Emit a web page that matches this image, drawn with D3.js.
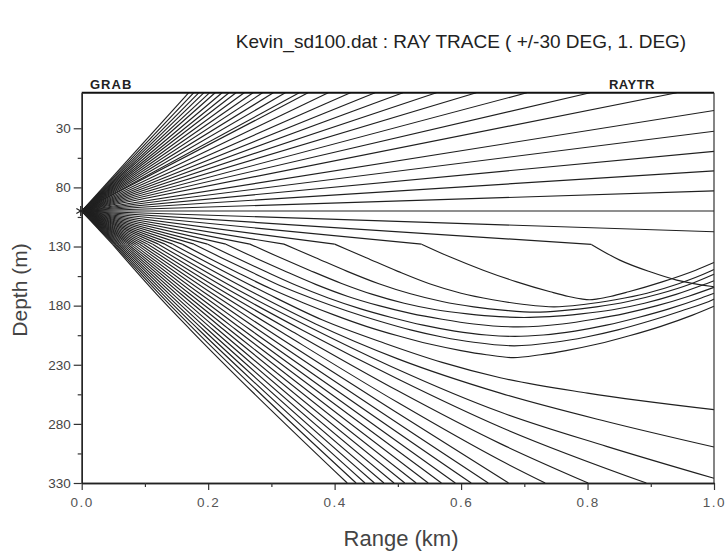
<!DOCTYPE html>
<html>
<head>
<meta charset="utf-8">
<script src="https://cdn.jsdelivr.net/npm/d3@7"></script>
<style>
  body { margin: 0; background: #fff; }
  text { font-family: "Liberation Sans", Arial, sans-serif; }
</style>
</head>
<body>
<div id="chart"></div>
<script>
// source position (range km, depth m)
const source = [0, 100];

// rays launched upward, +1 .. +30 deg : end point (range km, depth m)
const upRayEnds = [
  [1.0, 83], [1.0, 66], [1.0, 49.5], [1.0, 32.5], [1.0, 15],
  [0.941, 0], [0.804, 0], [0.704, 0], [0.624, 0], [0.561, 0],
  [0.508, 0], [0.464, 0], [0.425, 0], [0.390, 0], [0.358, 0],
  [0.344, 0], [0.322, 0], [0.303, 0], [0.286, 0], [0.271, 0],
  [0.257, 0], [0.244, 0], [0.233, 0], [0.222, 0], [0.211, 0],
  [0.202, 0], [0.193, 0], [0.185, 0], [0.177, 0], [0.169, 0]
];

// horizontal ray
const flatRay = [[0, 100], [1.0, 100]];

// rays launched downward, -1 .. -30 deg (first point after the source is the 128 m kink)
const downRays = [
  [[0, 100], [1.0, 117.5]],
  [[0, 100], [0.806, 128.2], [0.851, 141.5], [0.899, 151.4], [0.941, 158.4], [1.0, 164]],
  [[0, 100], [0.5375, 128], [0.582, 138.7], [0.635, 150], [0.688, 159.9], [0.741, 168.3], [0.77, 172.3], [0.79, 174.3], [0.803, 175], [0.816, 174.3], [0.836, 172.3], [0.865, 168.3], [0.918, 159.9], [0.971, 150], [1.0, 143.5]],
  [[0, 100], [0.40, 128], [0.45, 139.5], [0.50, 151], [0.55, 161.5], [0.60, 169.5], [0.65, 175], [0.70, 179], [0.747, 181], [0.794, 179], [0.844, 175], [0.894, 169.5], [0.944, 161.5], [0.994, 151], [1.0, 149.5]],
  [[0, 100], [0.32, 128], [0.37, 139.5], [0.42, 151], [0.47, 161.5], [0.52, 170], [0.57, 176.5], [0.62, 181], [0.67, 184], [0.717, 185.5], [0.764, 184], [0.814, 181], [0.864, 176.5], [0.914, 170], [0.964, 161.5], [1.0, 153.5]],
  [[0, 100], [0.266, 128], [0.31, 138.5], [0.36, 150], [0.41, 161], [0.46, 170.5], [0.51, 178], [0.56, 183.5], [0.61, 187], [0.66, 189.3], [0.70, 190], [0.74, 189.3], [0.79, 187], [0.84, 183.5], [0.89, 178], [0.94, 170.5], [0.99, 161], [1.0, 159]],
  [[0, 100], [0.228, 128], [0.27, 138.5], [0.32, 150.5], [0.37, 162], [0.42, 172], [0.47, 180], [0.52, 186.5], [0.57, 191.5], [0.62, 195.5], [0.69, 198], [0.76, 195.5], [0.81, 191.5], [0.86, 186.5], [0.91, 180], [0.96, 172], [1.0, 164.5]],
  [[0, 100], [0.199, 128], [0.24, 138.5], [0.29, 151], [0.34, 163], [0.39, 173.5], [0.44, 182.5], [0.49, 190], [0.54, 196.5], [0.59, 201.5], [0.64, 204.8], [0.685, 206], [0.73, 204.8], [0.78, 201.5], [0.83, 196.5], [0.88, 190], [0.93, 182.5], [0.98, 173.5], [1.0, 169.5]],
  [[0, 100], [0.1775, 128], [0.22, 139.2], [0.27, 152], [0.32, 164.5], [0.37, 175], [0.42, 184.5], [0.47, 193], [0.52, 200.5], [0.57, 206.5], [0.62, 211], [0.684, 214], [0.748, 211], [0.798, 206.5], [0.848, 200.5], [0.898, 193], [0.948, 184.5], [0.998, 175], [1.0, 174.5]],
  [[0, 100], [0.159, 128], [0.20, 139.5], [0.25, 153], [0.30, 166], [0.35, 177.5], [0.40, 188], [0.45, 197.5], [0.50, 205.5], [0.55, 212.5], [0.60, 218], [0.64, 221.5], [0.683, 224], [0.726, 221.5], [0.766, 218], [0.816, 212.5], [0.866, 205.5], [0.916, 197.5], [0.966, 188], [1.0, 180.5]],
  [[0, 100], [0.144, 128], [0.294, 170], [0.38, 192], [0.48, 212], [0.57, 228], [0.662, 241], [0.80, 254], [1.0, 268]],
  [[0, 100], [0.1317, 128], [0.275, 170], [0.37, 195.5], [0.50, 225], [0.662, 254], [0.83, 278], [1.0, 299.6]],
  [[0, 100], [0.1213, 128], [0.2585, 170], [0.36, 198], [0.50, 234], [0.662, 270], [0.83, 299], [1.0, 326]],
  [[0, 100], [0.1123, 128], [0.2437, 170], [0.35, 201], [0.50, 242], [0.662, 282.6], [0.893, 330]],
  [[0, 100], [0.1045, 128], [0.2302, 170], [0.34, 204], [0.50, 252], [0.662, 296.7], [0.801, 330]],
  [[0, 100], [0.0977, 128], [0.2182, 170], [0.33, 207], [0.50, 262], [0.662, 310.8], [0.733, 330]],
  [[0, 100], [0.0916, 128], [0.207, 170], [0.2923, 200], [0.50, 271], [0.675, 330]],
  [[0, 100], [0.0862, 128], [0.1967, 170], [0.2782, 200], [0.643, 330]],
  [[0, 100], [0.0813, 128], [0.1872, 170], [0.2655, 200], [0.616, 330]],
  [[0, 100], [0.0769, 128], [0.1786, 170], [0.2538, 200], [0.591, 330]],
  [[0, 100], [0.0729, 128], [0.1706, 170], [0.2431, 200], [0.569, 330]],
  [[0, 100], [0.0693, 128], [0.1632, 170], [0.233, 200], [0.548, 330]],
  [[0, 100], [0.066, 128], [0.1564, 170], [0.2238, 200], [0.529, 330]],
  [[0, 100], [0.0629, 128], [0.1499, 170], [0.2149, 200], [0.511, 330]],
  [[0, 100], [0.06, 128], [0.1437, 170], [0.2066, 200], [0.494, 330]],
  [[0, 100], [0.0574, 128], [0.138, 170], [0.1988, 200], [0.478, 330]],
  [[0, 100], [0.055, 128], [0.1326, 170], [0.1914, 200], [0.463, 330]],
  [[0, 100], [0.0527, 128], [0.1275, 170], [0.1844, 200], [0.448, 330]],
  [[0, 100], [0.0505, 128], [0.1227, 170], [0.1778, 200], [0.434, 330]],
  [[0, 100], [0.0485, 128], [0.118, 170], [0.1713, 200], [0.42, 330]]
];

const xTicks = [0, 0.2, 0.4, 0.6, 0.8, 1.0];
const xMinorTicks = [0.1, 0.3, 0.5, 0.7, 0.9];
const yTicks = [30, 80, 130, 180, 230, 280, 330];
const yMinorTicks = [55, 105, 155, 205, 255, 305];

const width = 726, height = 554;
const svg = d3.select("#chart").append("svg").attr("width", width).attr("height", height);

const x = d3.scaleLinear().domain([0, 1]).range([81.7, 714]);
const y = d3.scaleLinear().domain([0, 330]).range([92.8, 483]);

const straight = d3.line().x(d => x(d[0])).y(d => y(d[1]));
const bent = d3.line().x(d => x(d[0])).y(d => y(d[1])).curve(d3.curveMonotoneX);

const rays = svg.append("g").attr("fill", "none").attr("stroke", "#202020").attr("stroke-width", 1.15);

upRayEnds.forEach(e => {
  rays.append("path").attr("d", straight([source, e]));
});
rays.append("path").attr("d", straight(flatRay));
downRays.forEach(pts => {
  rays.append("path").attr("d", straight(pts.slice(0, 2)));
  if (pts.length > 2) rays.append("path").attr("d", bent(pts.slice(1)));
});

// frame
svg.append("line").attr("x1", x(0)).attr("x2", x(1)).attr("y1", y(0)).attr("y2", y(0))
  .attr("stroke", "#111").attr("stroke-width", 2);
svg.append("line").attr("x1", x(1)).attr("x2", x(1)).attr("y1", y(0)).attr("y2", y(330))
  .attr("stroke", "#333").attr("stroke-width", 1.2);

// axes
const yAxis = svg.append("g").attr("transform", `translate(${x(0)},0)`)
  .call(d3.axisLeft(y).tickValues(yTicks).tickSize(8).tickSizeOuter(0).tickPadding(3));
svg.append("g").attr("transform", `translate(${x(0)},0)`)
  .call(d3.axisLeft(y).tickValues(yMinorTicks).tickSize(4).tickSizeOuter(0).tickFormat(""));
const xAxis = svg.append("g").attr("transform", `translate(0,${y(330)})`)
  .call(d3.axisBottom(x).tickValues(xTicks).tickSize(7).tickSizeOuter(0).tickPadding(7).tickFormat(d3.format(".1f")));
svg.append("g").attr("transform", `translate(0,${y(330)})`)
  .call(d3.axisBottom(x).tickValues(xMinorTicks).tickSize(4).tickSizeOuter(0).tickFormat(""));

svg.selectAll(".domain").attr("stroke", "#222").attr("stroke-width", 1.3);
svg.selectAll(".tick line").attr("stroke", "#333").attr("stroke-width", 1.2);
yAxis.selectAll("text").attr("font-size", 13.5).attr("fill", "#444");
xAxis.selectAll("text").attr("font-size", 13.5).attr("fill", "#555").attr("letter-spacing", 1.5);

// source marker
svg.append("path").attr("transform", `translate(${x(source[0]) - 1},${y(source[1])})`)
  .attr("d", d3.symbol(d3.symbolAsterisk, 70)()).attr("stroke", "#222").attr("stroke-width", 1.2);

// texts
svg.append("text").attr("x", 461).attr("y", 48).attr("text-anchor", "middle")
  .attr("font-size", 19).attr("fill", "#222").text("Kevin_sd100.dat : RAY TRACE ( +/-30 DEG, 1. DEG)");
svg.append("text").attr("x", 90).attr("y", 89).attr("font-size", 13).attr("font-weight", "bold")
  .attr("letter-spacing", 1).attr("fill", "#222").text("GRAB");
svg.append("text").attr("x", 655).attr("y", 89).attr("text-anchor", "end").attr("font-size", 13)
  .attr("font-weight", "bold").attr("letter-spacing", 0.5).attr("fill", "#222").text("RAYTR");
svg.append("text").attr("x", 401).attr("y", 546).attr("text-anchor", "middle")
  .attr("font-size", 22).attr("fill", "#444").text("Range (km)");
svg.append("text").attr("transform", "translate(27,290) rotate(-90)").attr("text-anchor", "middle")
  .attr("font-size", 21).attr("fill", "#444").text("Depth (m)");
</script>
</body>
</html>
